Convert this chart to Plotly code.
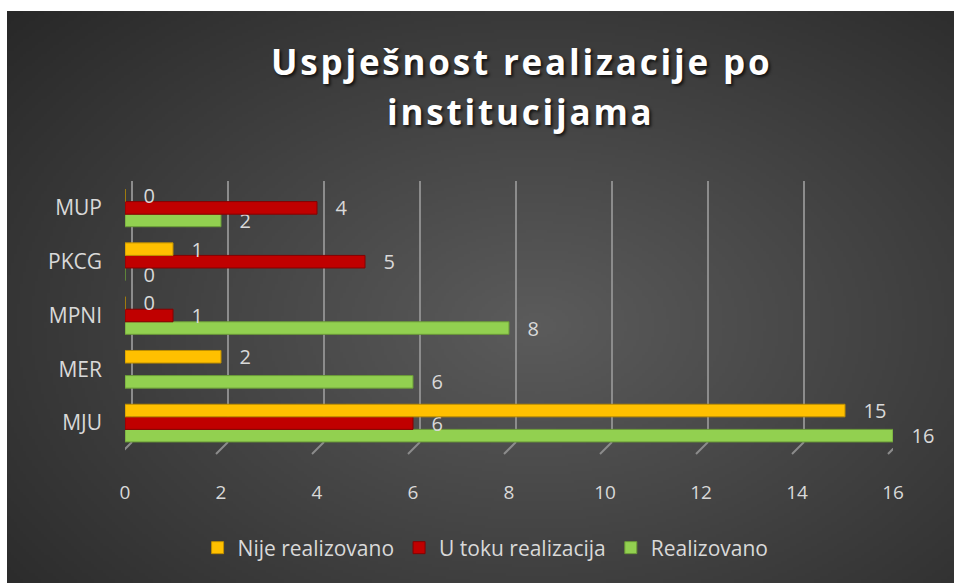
import plotly.graph_objects as go
import numpy as np
import zlib, struct, base64

categories = ["MJU", "MER", "MPNI", "PKCG", "MUP"]
nije_realizovano = [15, 2, 0, 1, 0]
u_toku_realizacija = [6, None, 1, 5, 4]
realizovano = [16, 6, 8, 0, 2]
x_ticks = [0, 2, 4, 6, 8, 10, 12, 14, 16]
title_lines = ["Uspješnost realizacije po", "institucijama"]

W, H = 954, 583


def gray_png_uri(arr):
    h, w = arr.shape
    raw = b''.join(b'\x00' + arr[i].tobytes() for i in range(h))

    def chunk(t, d):
        return struct.pack('>I', len(d)) + t + d + struct.pack('>I', zlib.crc32(t + d) & 0xffffffff)
    png = (b'\x89PNG\r\n\x1a\n' + chunk(b'IHDR', struct.pack('>IIBBBBB', w, h, 8, 0, 0, 0, 0))
           + chunk(b'IDAT', zlib.compress(raw, 9)) + chunk(b'IEND', b''))
    return 'data:image/png;base64,' + base64.b64encode(png).decode()


# radial-gradient background (decoration only)
gw, gh = 320, 192
gx = np.linspace(0, 1, gw)
gy = np.linspace(1, 0, gh)
GX, GY = np.meshgrid(gx, gy)
dist = np.clip(np.sqrt(((GX - 0.56) / 0.78) ** 2 + ((GY - 0.45) / 0.85) ** 2), 0, 1)
bg = (0x5b - (0x5b - 0x26) * dist).round().astype(np.uint8)
bg_uri = gray_png_uri(bg)

fig = go.Figure()
series = [
    ("Realizovano", realizovano, '#92D050', '#6b9b38'),
    ("U toku realizacija", u_toku_realizacija, '#C00000', '#860000'),
    ("Nije realizovano", nije_realizovano, '#FFC000', '#bf8f00'),
]
for name, vals, col, lcol in series:
    fig.add_trace(go.Bar(
        y=categories, x=vals, name=name, orientation='h',
        marker=dict(color=col, line=dict(color=lcol, width=1)),
        texttemplate='\u00a0\u00a0\u00a0%{x}', textposition='outside',
        constraintext='none', cliponaxis=False,
        textfont=dict(size=20, color='#d9d9d9', family='Open Sans'),
        hoverinfo='x+name'))

shapes = [
    dict(type='rect', xref='paper', yref='paper', x0=-0.05, x1=1.05, y0=1 - 11 / H, y1=1.05,
         fillcolor='white', line=dict(width=0), layer='below'),
    dict(type='rect', xref='paper', yref='paper', x0=-0.05, x1=7 / W, y0=-0.05, y1=1.05,
         fillcolor='white', line=dict(width=0), layer='below'),
]
for v in x_ticks:
    shapes.append(dict(type='line', xref='x', yref='y', layer='below',
                       xsizemode='pixel', xanchor=v, x0=7, x1=7,
                       ysizemode='pixel', yanchor=-0.5, y0=8, y1=280,
                       line=dict(color='#8c8c8c', width=2)))
    shapes.append(dict(type='line', xref='x', yref='y', layer='below',
                       xsizemode='pixel', xanchor=v, x0=7, x1=-5,
                       ysizemode='pixel', yanchor=-0.5, y0=8, y1=-4,
                       line=dict(color='#8c8c8c', width=2)))

title_font = dict(size=35, color='white', family='Open Sans', weight='bold',
                  shadow='2px 2px 3px rgba(0,0,0,0.7)')
annotations = [
    dict(text='<span style="letter-spacing:2.8px">%s</span>' % title_lines[0],
         xref='paper', yref='paper', x=521 / W, y=1 - 61 / H,
         xanchor='center', yanchor='middle', showarrow=False, font=title_font),
    dict(text='<span style="letter-spacing:2.8px">%s</span>' % title_lines[1],
         xref='paper', yref='paper', x=521 / W, y=1 - 111 / H,
         xanchor='center', yanchor='middle', showarrow=False, font=title_font),
]

fig.update_layout(
    width=W, height=H, autosize=False,
    margin=dict(l=0, r=0, t=0, b=0, pad=0, autoexpand=False),
    paper_bgcolor='#262626', plot_bgcolor='rgba(0,0,0,0)',
    font=dict(family='Open Sans', color='#d9d9d9'),
    barmode='group', bargap=0.3, bargroupgap=0,
    xaxis=dict(domain=[125 / W, 893 / W], range=[0, 16], automargin=False,
               tickvals=x_ticks, showgrid=False, zeroline=False, showline=False,
               ticks='', tickfont=dict(size=19, color='#d9d9d9'),
               ticklabelstandoff=24),
    yaxis=dict(domain=[1 - 455 / H, 1 - 181 / H], automargin=False,
               categoryorder='array', categoryarray=categories,
               showgrid=False, zeroline=False, showline=False, ticks='',
               tickfont=dict(size=21, color='#d9d9d9'), ticklabelstandoff=22),
    legend=dict(orientation='h', x=0.509, xanchor='center', y=1 - 548 / H,
                yanchor='middle', traceorder='reversed',
                font=dict(size=21, color='#d9d9d9'), bgcolor='rgba(0,0,0,0)'),
    images=[dict(source=bg_uri, xref='paper', yref='paper', x=7 / W, y=1 - 11 / H,
                 sizex=1 - 7 / W, sizey=1 - 11 / H, xanchor='left', yanchor='top',
                 sizing='stretch', layer='below')],
    shapes=shapes,
    annotations=annotations,
)

fig.write_html("out.html",
               config={'responsive': False, 'displayModeBar': False},
               post_script="document.body.style.margin='0';document.body.style.overflow='hidden';")
